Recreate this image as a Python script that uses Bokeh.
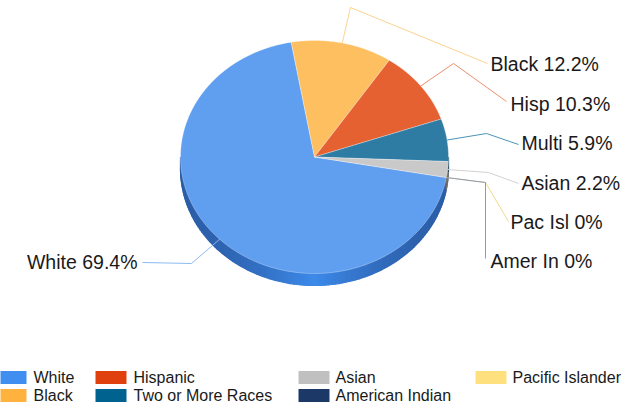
import numpy as np
from bokeh.plotting import figure
from bokeh.models import Range1d
from bokeh.embed import file_html
from bokeh.resources import INLINE
from bokeh.core.properties import value

# ---------------- data ----------------
categories = ["White", "Black", "Hispanic", "Two or More Races", "Asian",
              "American Indian", "Pacific Islander"]
short_labels = ["White", "Black", "Hisp", "Multi", "Asian", "Amer In", "Pac Isl"]
percent = [69.4, 12.2, 10.3, 5.9, 2.2, 0.0, 0.0]
pct_text = ["69.4%", "12.2%", "10.3%", "5.9%", "2.2%", "0%", "0%"]

top_colors = ["#609ff0", "#fdbf5f", "#e66132", "#2e7ca4", "#c9c9c9", "#1b3866", "#ffe080"]
legend_colors = ["#3f8ef0", "#ffb23e", "#e0400e", "#00628f", "#c0c0c0", "#1b3866", "#ffe07e"]
leader_colors = ["#8cbaf2", "#fdd391", "#ec8f6e", "#4b93b6", "#d2d2d2", "#8a9ab8", "#f3d98c"]

# ---------------- layout ----------------
CX, CY, RX, RY, DEPTH = 314.0, 156.5, 134.0, 116.5, 12.0
START = -10.15  # math degrees, slices run clockwise

elbows = {"White": (191, 263), "Black": (350, 7), "Hisp": (453, 63), "Multi": (486, 133),
          "Asian": (488, 172), "Amer In": (485, 182), "Pac Isl": (485, 182)}
ends = {"White": (142, 262), "Black": (487, 63), "Hisp": (506, 101), "Multi": (518, 144),
        "Asian": (518, 183), "Amer In": (485, 258), "Pac Isl": (508, 221)}
label_pos = {"White": (137, 261, "right"), "Black": (490, 63, "left"), "Hisp": (510, 103, "left"),
             "Multi": (521, 142, "left"), "Asian": (521, 182, "left"),
             "Amer In": (490, 260, "left"), "Pac Isl": (510, 221, "left")}


def ex(a):
    return CX + RX * np.cos(np.radians(a))


def ey(a):
    return CY - RY * np.sin(np.radians(a))


def hex2rgb(h):
    h = h.lstrip("#")
    return np.array([int(h[i:i + 2], 16) for i in (0, 2, 4)], dtype=float)


def rgb2hex(c):
    c = np.clip(c, 0, 255).astype(int)
    return "#%02x%02x%02x" % tuple(c)


p = figure(width=625, height=403, x_range=Range1d(0, 625), y_range=Range1d(403, 0),
           output_backend="svg", toolbar_location=None, min_border=0)
p.axis.visible = False
p.grid.visible = False
p.outline_line_color = None
p.background_fill_color = "white"

# slice angles
bounds = []
acc = START
for v in percent:
    a0 = acc
    a1 = acc - v * 3.6
    bounds.append((a0, a1))
    acc = a1


def slice_of(t):
    off = (START - t) % 360.0
    c = 0.0
    for i, v in enumerate(percent):
        c += v * 3.6
        if off < c:
            return i
    return 0

# ---------------- side wall ----------------
side_x, side_y, side_c = [], [], []
ts = np.linspace(-180, 0, 121)
for t1, t2 in zip(ts[:-1], ts[1:]):
    i = slice_of((t1 + t2) / 2)
    base = hex2rgb(top_colors[i])
    if i == 0:
        dark, light = hex2rgb("#2c5ea8"), hex2rgb("#3d8aea")
    else:
        dark, light = base * 0.55, base * 0.8
    f = (1 - abs(np.cos(np.radians((t1 + t2) / 2)))) ** 1.6
    col = rgb2hex(dark + (light - dark) * f)
    side_x.append([ex(t1), ex(t2), ex(t2), ex(t1)])
    side_y.append([ey(t1), ey(t2), ey(t2) + DEPTH, ey(t1) + DEPTH])
    side_c.append(col)
p.patches(side_x, side_y, fill_color=side_c, line_color=side_c, line_width=1.2)

# ---------------- top face ----------------
wx, wy, wc = [], [], []
for (a0, a1), col, v in zip(bounds, top_colors, percent):
    if v <= 0:
        continue
    n = max(4, int(abs(a1 - a0) * 2))
    arc = np.linspace(a0, a1, n)
    wx.append([CX] + list(ex(arc)))
    wy.append([CY] + list(ey(arc)))
    wc.append(col)
p.patches(wx, wy, fill_color=wc, line_color="white", line_width=0.6, line_alpha=0.5)

# ---------------- leader lines & labels ----------------
order = [0, 1, 2, 3, 4, 6, 5]
for i in order:
    name = short_labels[i]
    mid = (bounds[i][0] + bounds[i][1]) / 2
    ax_, ay_ = ex(mid), ey(mid)
    (bx, by), (cx_, cy_) = elbows[name], ends[name]
    p.line([ax_, bx, cx_], [ay_, by, cy_], line_color=leader_colors[i], line_width=1)

for align in ("left", "right"):
    xs, ys, tx = [], [], []
    for i, name in enumerate(short_labels):
        lx, ly, al = label_pos[name]
        if al != align:
            continue
        xs.append(lx)
        ys.append(ly)
        tx.append(f"{name} {pct_text[i]}")
    p.text(x=xs, y=ys, text=tx, text_align=align, text_baseline="middle",
           text_font=value("Liberation Sans"), text_font_size="19.5px", text_color="#1a1a1a")

# ---------------- legend ----------------
col_sw_x = [-5, 95, 298, 475]
col_tx_x = [33, 133, 335, 512]
row_y = [377, 395]
lg_l, lg_r, lg_t, lg_b, lg_c = [], [], [], [], []
lt_x, lt_y, lt_t = [], [], []
for k, cat in enumerate(categories):
    c, r = k // 2, k % 2
    lg_l.append(col_sw_x[c])
    lg_r.append(col_sw_x[c] + 31)
    lg_t.append(row_y[r] - 6.5)
    lg_b.append(row_y[r] + 6.5)
    lg_c.append(legend_colors[k])
    lt_x.append(col_tx_x[c])
    lt_y.append(row_y[r])
    lt_t.append(cat)
p.quad(left=lg_l, right=lg_r, top=lg_t, bottom=lg_b, fill_color=lg_c, line_color=None)
p.text(x=lt_x, y=lt_y, text=lt_t, text_align="left", text_baseline="middle",
       text_font=value("Liberation Sans"), text_font_size="16px", text_color="#1a1a1a")

open("out.html", "w").write(file_html(p, INLINE))
